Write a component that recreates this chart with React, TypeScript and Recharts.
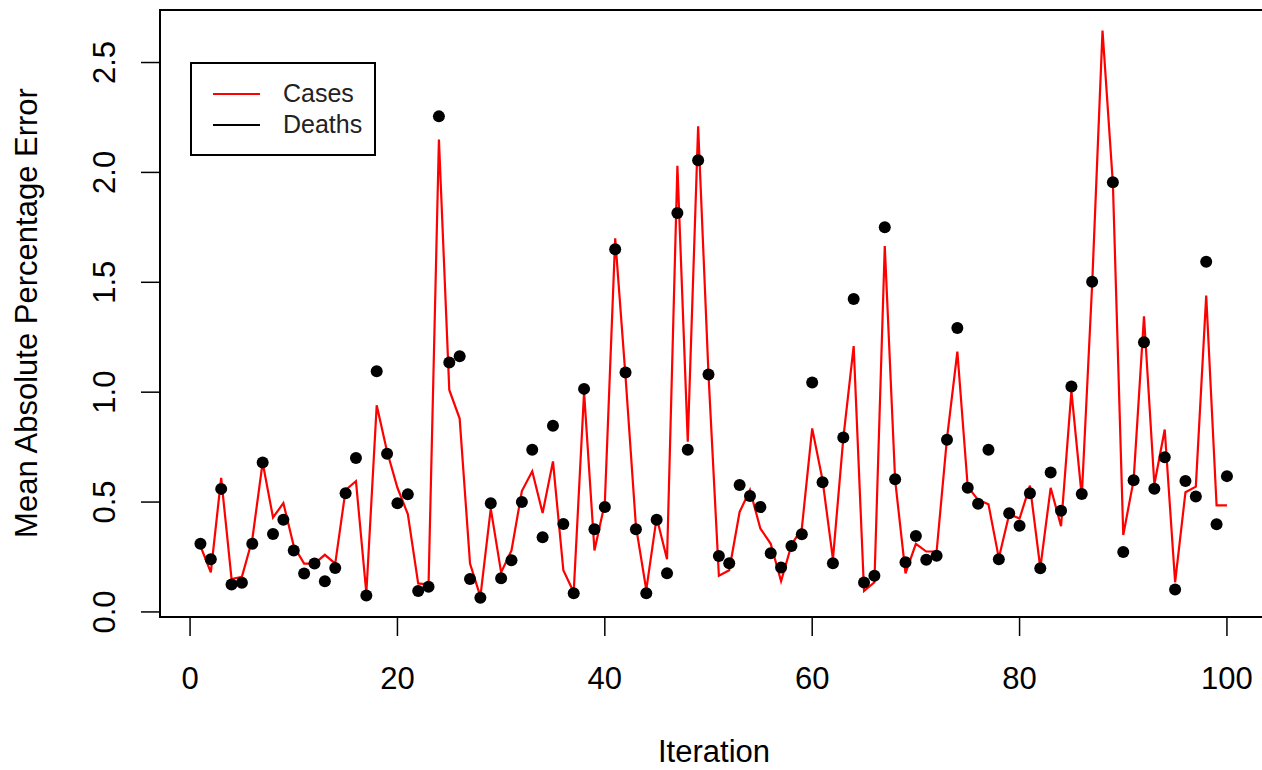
import React from "react"
import {
  ComposedChart,
  Line,
  XAxis,
  YAxis,
  ReferenceArea,
  Legend,
} from "recharts"

// MAPE per iteration
const iterations = Array.from({ length: 100 }, (_, i) => i + 1)

const cases = [
  0.3, 0.18, 0.61, 0.15, 0.16, 0.33, 0.68, 0.43, 0.495, 0.3,
  0.22, 0.22, 0.26, 0.22, 0.555, 0.595, 0.085, 0.94, 0.73, 0.565,
  0.445, 0.13, 0.125, 2.15, 1.01, 0.88, 0.22, 0.07, 0.47, 0.18,
  0.28, 0.55, 0.64, 0.45, 0.685, 0.19, 0.09, 1.0, 0.28, 0.495,
  1.7, 1.07, 0.39, 0.1, 0.43, 0.24, 2.03, 0.775, 2.21, 1.08,
  0.165, 0.19, 0.455, 0.555, 0.38, 0.31, 0.14, 0.305, 0.38, 0.835,
  0.6, 0.24, 0.79, 1.21, 0.095, 0.135, 1.665, 0.6, 0.175, 0.31,
  0.275, 0.275, 0.79, 1.185, 0.57, 0.51, 0.49, 0.245, 0.445, 0.425,
  0.575, 0.2, 0.565, 0.39, 1.005, 0.525, 1.49, 2.645, 1.95, 0.35,
  0.6, 1.345, 0.58, 0.83, 0.135, 0.545, 0.57, 1.44, 0.485, 0.485,
]

// iteration 88 lies above the plotted range in the reference
const deaths: (number | null)[] = [
  0.31, 0.24, 0.56, 0.125, 0.133, 0.31, 0.68, 0.355, 0.42, 0.28,
  0.175, 0.22, 0.14, 0.2, 0.54, 0.7, 0.075, 1.095, 0.72, 0.495,
  0.535, 0.095, 0.115, 2.255, 1.135, 1.163, 0.15, 0.065, 0.495, 0.153,
  0.235, 0.5, 0.738, 0.34, 0.847, 0.4, 0.085, 1.015, 0.376, 0.477,
  1.65, 1.09, 0.376, 0.085, 0.419, 0.176, 1.815, 0.738, 2.055, 1.08,
  0.255, 0.222, 0.578, 0.528, 0.477, 0.267, 0.202, 0.3, 0.354, 1.044,
  0.59, 0.222, 0.794, 1.424, 0.134, 0.165, 1.75, 0.604, 0.226, 0.346,
  0.237, 0.256, 0.783, 1.292, 0.565, 0.492, 0.738, 0.24, 0.449, 0.392,
  0.54, 0.199, 0.634, 0.46, 1.026, 0.537, 1.503, null, 1.955, 0.273,
  0.599, 1.227, 0.561, 0.704, 0.102, 0.596, 0.525, 1.593, 0.399, 0.618,
]

const xTicks = [0, 20, 40, 60, 80, 100]
const yTicks = [0, 0.5, 1, 1.5, 2, 2.5]

const X_DOMAIN: [number, number] = [-2.9, 103.96]
const Y_DOMAIN: [number, number] = [-0.023, 2.739]

const FONT = '"Liberation Sans", Arial, sans-serif'

const chartData = iterations.map((it, i) => ({
  iteration: it,
  cases: cases[i],
  deaths: deaths[i],
}))

function YTick({ x, y, payload }: any) {
  return (
    <text
      transform={`translate(${x - 26},${y}) rotate(-90)`}
      textAnchor="middle"
      fontSize={31}
      fontFamily={FONT}
      fill="#000"
    >
      {Number(payload.value).toFixed(1)}
    </text>
  )
}

function LegendBox() {
  const rows = [
    { label: "Cases", color: "#ff0000" },
    { label: "Deaths", color: "#000000" },
  ]
  return (
    <div
      style={{
        boxSizing: "border-box",
        width: 186,
        height: 94,
        border: "2px solid #000",
        background: "#fff",
        paddingTop: 14,
        fontFamily: FONT,
        fontSize: 25,
        color: "#222",
      }}
    >
      {rows.map((r) => (
        <div
          key={r.label}
          style={{ display: "flex", alignItems: "center", height: 31 }}
        >
          <span
            style={{
              display: "inline-block",
              width: 47,
              height: 2,
              marginLeft: 21,
              marginRight: 23,
              background: r.color,
            }}
          />
          <span>{r.label}</span>
        </div>
      ))}
    </div>
  )
}

export default function App() {
  return (
    <div
      style={{
        position: "fixed",
        left: 0,
        top: 0,
        width: 1262,
        height: 770,
        overflow: "hidden",
        background: "#fff",
      }}
    >
      <ComposedChart
        width={1290}
        height={770}
        data={chartData}
        margin={{ top: 10, right: 22, bottom: 0, left: 0 }}
      >
        <ReferenceArea
          x1={X_DOMAIN[0]}
          x2={X_DOMAIN[1]}
          y1={Y_DOMAIN[0]}
          y2={Y_DOMAIN[1]}
          fill="none"
          stroke="#000"
          strokeWidth={2}
          ifOverflow="visible"
        />
        <XAxis
          type="number"
          dataKey="iteration"
          domain={X_DOMAIN}
          ticks={xTicks}
          allowDataOverflow
          height={153}
          axisLine={false}
          tickLine={{ stroke: "#000", strokeWidth: 1.5 }}
          tickSize={19}
          tickMargin={31}
          tick={{ fontSize: 31, fontFamily: FONT, fill: "#000" }}
          label={{
            content: () => (
              <text
                x={714}
                y={762}
                textAnchor="middle"
                fontSize={31}
                fontFamily={FONT}
                fill="#000"
              >
                Iteration
              </text>
            ),
          }}
        />
        <YAxis
          type="number"
          domain={Y_DOMAIN}
          ticks={yTicks}
          allowDataOverflow
          width={160}
          axisLine={false}
          tickLine={{ stroke: "#000", strokeWidth: 1.5 }}
          tickSize={19}
          tickMargin={0}
          tick={<YTick />}
          label={{
            content: () => (
              <text
                transform="translate(37,313) rotate(-90)"
                textAnchor="middle"
                fontSize={31}
                fontFamily={FONT}
                fill="#000"
              >
                Mean Absolute Percentage Error
              </text>
            ),
          }}
        />
        <Line
          type="linear"
          dataKey="cases"
          stroke="#ff0000"
          strokeWidth={2.2}
          dot={false}
          isAnimationActive={false}
        />
        <Line
          type="linear"
          dataKey="deaths"
          stroke="none"
          dot={{ r: 6, fill: "#000", stroke: "none" }}
          activeDot={false}
          isAnimationActive={false}
        />
        <Legend
          layout="vertical"
          align="center"
          verticalAlign="middle"
          content={() => <LegendBox />}
          wrapperStyle={{ position: "absolute", left: 190, top: 62, width: 186, height: 94 }}
        />
      </ComposedChart>
    </div>
  )
}
